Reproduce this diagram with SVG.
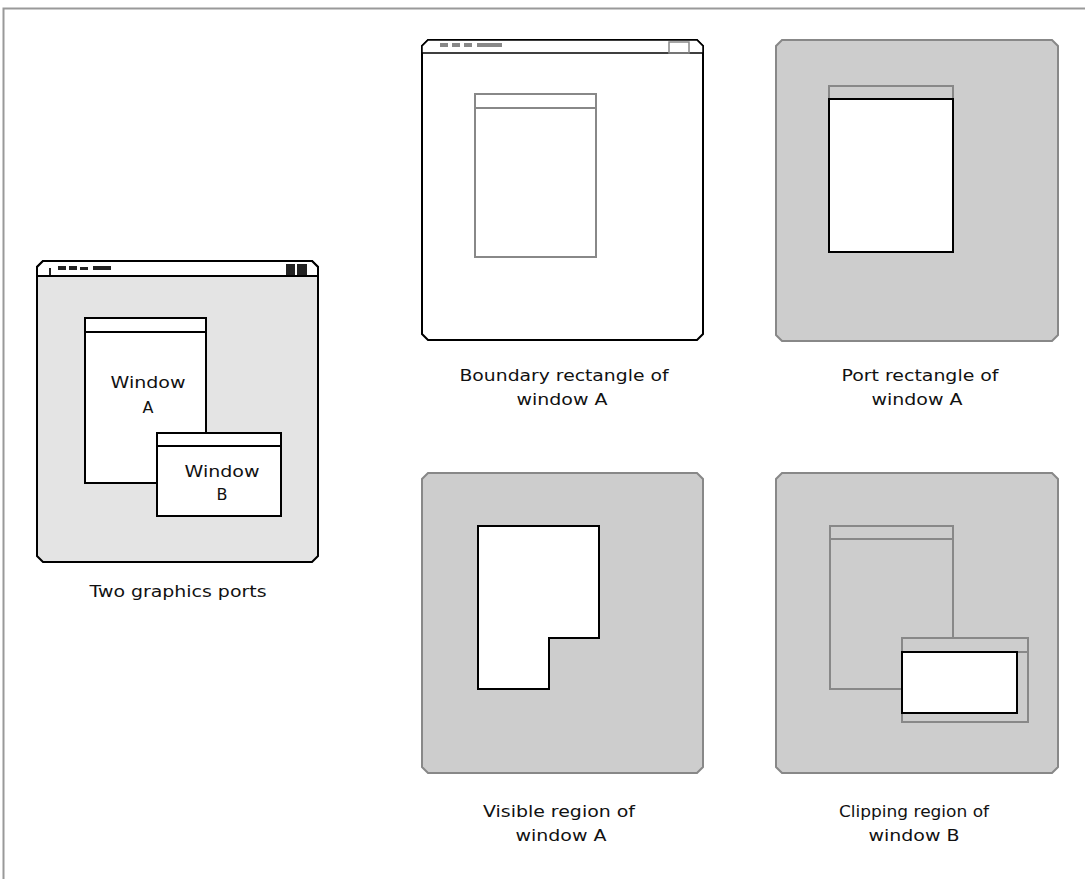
<svg xmlns="http://www.w3.org/2000/svg" width="1085" height="879" viewBox="0 0 1085 879">
<style>
.lbl{font-family:"DejaVu Sans","Liberation Sans",Arial,sans-serif;font-size:16px;fill:#111;text-anchor:middle}
.win{font-family:"DejaVu Sans","Liberation Sans",Arial,sans-serif;font-size:16px;fill:#111;text-anchor:middle}
.blk{stroke:#000;stroke-width:2;fill:#fff}
.gry{stroke:#888;stroke-width:2;fill:none}
.panel{fill:#cdcdcd;stroke:#888;stroke-width:2}
.greek{fill:#222}
</style>
<rect width="1085" height="879" fill="#fff"/>
<rect x="3.5" y="8.5" width="1100" height="900" fill="none" stroke="#999" stroke-width="2"/>

<g id="two-graphics-ports">
  <path d="M43,261 H312 L318,267 V556 L312,562 H43 L37,556 V267 Z" fill="#e4e4e4" stroke="#000" stroke-width="2"/>
  <path d="M43,261 H312 L318,267 V276 H37 V267 Z" fill="#fff" stroke="#000" stroke-width="2"/>
  <g class="greek">
    <rect x="49" y="268" width="2" height="7"/>
    <rect x="58" y="266" width="8" height="4"/>
    <rect x="69" y="266" width="8" height="4"/>
    <rect x="80" y="267" width="8" height="3"/>
    <rect x="93" y="266" width="18" height="4"/>
    <rect x="286" y="264" width="9" height="11"/>
    <rect x="297" y="264" width="10" height="11"/>
  </g>
  <rect x="85" y="318" width="121" height="165" class="blk"/>
  <line x1="85" y1="332" x2="206" y2="332" stroke="#000" stroke-width="2"/>
  <text class="win" x="148" y="388" textLength="75" lengthAdjust="spacingAndGlyphs">Window</text>
  <text class="win" x="148" y="413">A</text>
  <rect x="157" y="433" width="124" height="83" class="blk"/>
  <line x1="157" y1="446" x2="281" y2="446" stroke="#000" stroke-width="2"/>
  <text class="win" x="222" y="477" textLength="75" lengthAdjust="spacingAndGlyphs">Window</text>
  <text class="win" x="222" y="500">B</text>
  <text class="lbl" x="178" y="597" textLength="177" lengthAdjust="spacingAndGlyphs">Two graphics ports</text>
</g>

<g id="boundary-rectangle">
  <path d="M428,40 H697 L703,46 V334 L697,340 H428 L422,334 V46 Z" fill="#fff" stroke="#000" stroke-width="2"/>
  <path d="M422,46 L428,40 H697 L703,46 V53 H422 Z" fill="#fff" stroke="#000" stroke-width="1.5"/>
  <g fill="#888">
    <rect x="440" y="43" width="8" height="4"/>
    <rect x="452" y="43" width="8" height="4"/>
    <rect x="464" y="43" width="8" height="4"/>
    <rect x="477" y="43" width="25" height="4"/>
  </g>
  <rect x="669" y="42" width="20" height="11" fill="none" stroke="#888" stroke-width="1.5"/>
  <rect x="475" y="94" width="121" height="163" class="gry" fill="#fff"/>
  <line x1="475" y1="108" x2="596" y2="108" stroke="#888" stroke-width="2"/>
  <text class="lbl" x="564" y="381" textLength="209" lengthAdjust="spacingAndGlyphs">Boundary rectangle of</text>
  <text class="lbl" x="562" y="405" textLength="91" lengthAdjust="spacingAndGlyphs">window A</text>
</g>

<g id="port-rectangle">
  <path d="M782,40 H1052 L1058,46 V335 L1052,341 H782 L776,335 V46 Z" class="panel"/>
  <rect x="829" y="86" width="124" height="13" class="gry"/>
  <rect x="829" y="99" width="124" height="153" class="blk"/>
  <text class="lbl" x="920" y="381" textLength="157" lengthAdjust="spacingAndGlyphs">Port rectangle of</text>
  <text class="lbl" x="917" y="405" textLength="91" lengthAdjust="spacingAndGlyphs">window A</text>
</g>

<g id="visible-region">
  <path d="M428,473 H697 L703,479 V767 L697,773 H428 L422,767 V479 Z" class="panel"/>
  <polygon points="478,526 599,526 599,638 549,638 549,689 478,689" class="blk"/>
  <text class="lbl" x="559" y="817" textLength="152" lengthAdjust="spacingAndGlyphs">Visible region of</text>
  <text class="lbl" x="561" y="841" textLength="91" lengthAdjust="spacingAndGlyphs">window A</text>
</g>

<g id="clipping-region">
  <path d="M782,473 H1052 L1058,479 V767 L1052,773 H782 L776,767 V479 Z" class="panel"/>
  <rect x="830" y="526" width="123" height="163" class="gry"/>
  <line x1="830" y1="539" x2="953" y2="539" stroke="#888" stroke-width="2"/>
  <rect x="902" y="638" width="126" height="84" fill="#cdcdcd" stroke="#888" stroke-width="2"/>
  <line x1="902" y1="652" x2="1028" y2="652" stroke="#888" stroke-width="2"/>
  <rect x="902" y="652" width="115" height="61" class="blk"/>
  <text class="lbl" x="914" y="817" textLength="150" lengthAdjust="spacingAndGlyphs">Clipping region of</text>
  <text class="lbl" x="914" y="841" textLength="91" lengthAdjust="spacingAndGlyphs">window B</text>
</g>

<g id="connectors"></g>
</svg>
